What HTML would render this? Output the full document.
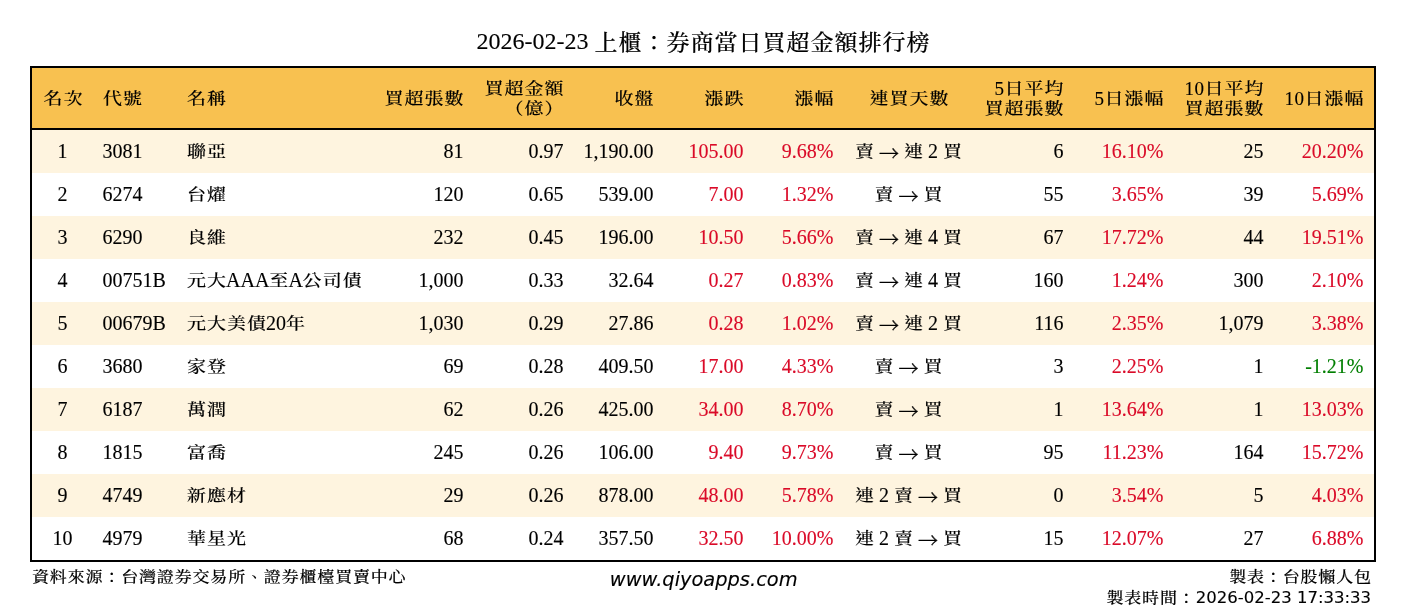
<!DOCTYPE html>
<html lang="zh-Hant"><head><meta charset="utf-8"><title>券商當日買超金額排行榜</title>
<style>
html,body{margin:0;padding:0;background:#fff}
body{width:1406px;height:612px;position:relative;overflow:hidden;font-family:"Liberation Serif","Noto Serif CJK TC","Noto Serif CJK SC",serif;color:#000}
.t{position:absolute;white-space:nowrap;line-height:24px;height:24px;-webkit-text-stroke:.12px currentColor}
.k{font-family:"Liberation Serif","Noto Serif CJK TC","Noto Serif CJK SC",serif;font-weight:500;display:inline-block;transform:scaleY(.86);transform-origin:50% 50%;-webkit-text-stroke:.15px currentColor}
.a{font-family:"Noto Serif CJK TC","Noto Serif CJK SC",serif;font-size:20px;line-height:0;display:inline-block;width:20px;text-align:center;position:relative;top:3px;-webkit-text-stroke:.35px currentColor}
#title{font-size:24px;left:0;width:1406px;text-align:center;top:28px;line-height:26px;height:26px}
#box{position:absolute;left:30px;top:66px;width:1346px;height:496px;box-sizing:border-box;border:2px solid #000;background:#fff}
#hd{position:absolute;left:32px;top:68px;width:1342px;height:60px;background:#F8C150}
#hl{position:absolute;left:32px;top:128px;width:1342px;height:2px;background:#000}
.row{position:absolute;left:32px;width:1342px;height:43px;background:#FEF4DF}
.h{font-size:19px;letter-spacing:.5px}
.h .k{font-size:19px;letter-spacing:1px;margin-right:-1px}
.d{font-size:20px}
.d .k{font-size:19px;letter-spacing:1px;margin-right:-1px;position:relative;top:.2px}
#title .k{font-size:23px;letter-spacing:1px;margin-right:-1px;position:relative;top:1.6px;transform:scaleY(.92)}
.red{color:#DA0A28}
.grn{color:#007F00}
.f{font-size:17.85px}
.f .k{font-size:17.05px;letter-spacing:.8px;margin-right:-.8px;position:relative;top:1.2px}
.dv{font-family:"DejaVu Sans",sans-serif}
</style></head><body>

<div class="t" id="title">2026-02-23 <span class="k">上櫃：券商當日買超金額排行榜</span></div>
<div id="box"></div><div id="hd"></div><div id="hl"></div>
<div class="row" style="top:130px"></div>
<div class="row" style="top:216px"></div>
<div class="row" style="top:302px"></div>
<div class="row" style="top:388px"></div>
<div class="row" style="top:474px"></div>
<div class="t h" style="left:-87px;width:300px;text-align:center;top:87px"><span class="k">名次</span></div>
<div class="t h" style="left:103px;top:87px"><span class="k">代號</span></div>
<div class="t h" style="left:187px;top:87px"><span class="k">名稱</span></div>
<div class="t h" style="right:942.5px;top:87px"><span class="k">買超張數</span></div>
<div class="t h" style="right:842.5px;top:77px"><span class="k">買超金額</span></div>
<div class="t h" style="right:842.5px;top:97px"><span class="k">（億）</span></div>
<div class="t h" style="right:752.5px;top:87px"><span class="k">收盤</span></div>
<div class="t h" style="right:662.5px;top:87px"><span class="k">漲跌</span></div>
<div class="t h" style="right:572.5px;top:87px"><span class="k">漲幅</span></div>
<div class="t h" style="left:759px;width:300px;text-align:center;top:87px"><span class="k">連買天數</span></div>
<div class="t h" style="right:342.5px;top:77px">5<span class="k">日平均</span></div>
<div class="t h" style="right:342.5px;top:97px"><span class="k">買超張數</span></div>
<div class="t h" style="right:242.5px;top:87px">5<span class="k">日漲幅</span></div>
<div class="t h" style="right:142.5px;top:77px">10<span class="k">日平均</span></div>
<div class="t h" style="right:142.5px;top:97px"><span class="k">買超張數</span></div>
<div class="t h" style="right:42.5px;top:87px">10<span class="k">日漲幅</span></div>
<div class="t d" style="left:-87.5px;width:300px;text-align:center;top:138.5px">1</div>
<div class="t d" style="left:102.5px;top:138.5px">3081</div>
<div class="t d" style="left:187px;top:138.5px"><span class="k">聯亞</span></div>
<div class="t d" style="right:942.5px;top:138.5px">81</div>
<div class="t d" style="right:842.5px;top:138.5px">0.97</div>
<div class="t d" style="right:752.5px;top:138.5px">1,190.00</div>
<div class="t d red" style="right:662.5px;top:138.5px">105.00</div>
<div class="t d red" style="right:572.5px;top:138.5px">9.68%</div>
<div class="t d" style="left:758.5px;width:300px;text-align:center;top:138.5px"><span class="k">賣</span> <span class="a">→</span> <span class="k">連</span> 2 <span class="k">買</span></div>
<div class="t d" style="right:342.5px;top:138.5px">6</div>
<div class="t d red" style="right:242.5px;top:138.5px">16.10%</div>
<div class="t d" style="right:142.5px;top:138.5px">25</div>
<div class="t d red" style="right:42.5px;top:138.5px">20.20%</div>
<div class="t d" style="left:-87.5px;width:300px;text-align:center;top:181.5px">2</div>
<div class="t d" style="left:102.5px;top:181.5px">6274</div>
<div class="t d" style="left:187px;top:181.5px"><span class="k">台燿</span></div>
<div class="t d" style="right:942.5px;top:181.5px">120</div>
<div class="t d" style="right:842.5px;top:181.5px">0.65</div>
<div class="t d" style="right:752.5px;top:181.5px">539.00</div>
<div class="t d red" style="right:662.5px;top:181.5px">7.00</div>
<div class="t d red" style="right:572.5px;top:181.5px">1.32%</div>
<div class="t d" style="left:758.5px;width:300px;text-align:center;top:181.5px"><span class="k">賣</span> <span class="a">→</span> <span class="k">買</span></div>
<div class="t d" style="right:342.5px;top:181.5px">55</div>
<div class="t d red" style="right:242.5px;top:181.5px">3.65%</div>
<div class="t d" style="right:142.5px;top:181.5px">39</div>
<div class="t d red" style="right:42.5px;top:181.5px">5.69%</div>
<div class="t d" style="left:-87.5px;width:300px;text-align:center;top:224.5px">3</div>
<div class="t d" style="left:102.5px;top:224.5px">6290</div>
<div class="t d" style="left:187px;top:224.5px"><span class="k">良維</span></div>
<div class="t d" style="right:942.5px;top:224.5px">232</div>
<div class="t d" style="right:842.5px;top:224.5px">0.45</div>
<div class="t d" style="right:752.5px;top:224.5px">196.00</div>
<div class="t d red" style="right:662.5px;top:224.5px">10.50</div>
<div class="t d red" style="right:572.5px;top:224.5px">5.66%</div>
<div class="t d" style="left:758.5px;width:300px;text-align:center;top:224.5px"><span class="k">賣</span> <span class="a">→</span> <span class="k">連</span> 4 <span class="k">買</span></div>
<div class="t d" style="right:342.5px;top:224.5px">67</div>
<div class="t d red" style="right:242.5px;top:224.5px">17.72%</div>
<div class="t d" style="right:142.5px;top:224.5px">44</div>
<div class="t d red" style="right:42.5px;top:224.5px">19.51%</div>
<div class="t d" style="left:-87.5px;width:300px;text-align:center;top:267.5px">4</div>
<div class="t d" style="left:102.5px;top:267.5px">00751B</div>
<div class="t d" style="left:187px;top:267.5px"><span class="k">元大</span>AAA<span class="k">至</span>A<span class="k">公司債</span></div>
<div class="t d" style="right:942.5px;top:267.5px">1,000</div>
<div class="t d" style="right:842.5px;top:267.5px">0.33</div>
<div class="t d" style="right:752.5px;top:267.5px">32.64</div>
<div class="t d red" style="right:662.5px;top:267.5px">0.27</div>
<div class="t d red" style="right:572.5px;top:267.5px">0.83%</div>
<div class="t d" style="left:758.5px;width:300px;text-align:center;top:267.5px"><span class="k">賣</span> <span class="a">→</span> <span class="k">連</span> 4 <span class="k">買</span></div>
<div class="t d" style="right:342.5px;top:267.5px">160</div>
<div class="t d red" style="right:242.5px;top:267.5px">1.24%</div>
<div class="t d" style="right:142.5px;top:267.5px">300</div>
<div class="t d red" style="right:42.5px;top:267.5px">2.10%</div>
<div class="t d" style="left:-87.5px;width:300px;text-align:center;top:310.5px">5</div>
<div class="t d" style="left:102.5px;top:310.5px">00679B</div>
<div class="t d" style="left:187px;top:310.5px"><span class="k">元大美債</span>20<span class="k">年</span></div>
<div class="t d" style="right:942.5px;top:310.5px">1,030</div>
<div class="t d" style="right:842.5px;top:310.5px">0.29</div>
<div class="t d" style="right:752.5px;top:310.5px">27.86</div>
<div class="t d red" style="right:662.5px;top:310.5px">0.28</div>
<div class="t d red" style="right:572.5px;top:310.5px">1.02%</div>
<div class="t d" style="left:758.5px;width:300px;text-align:center;top:310.5px"><span class="k">賣</span> <span class="a">→</span> <span class="k">連</span> 2 <span class="k">買</span></div>
<div class="t d" style="right:342.5px;top:310.5px">116</div>
<div class="t d red" style="right:242.5px;top:310.5px">2.35%</div>
<div class="t d" style="right:142.5px;top:310.5px">1,079</div>
<div class="t d red" style="right:42.5px;top:310.5px">3.38%</div>
<div class="t d" style="left:-87.5px;width:300px;text-align:center;top:353.5px">6</div>
<div class="t d" style="left:102.5px;top:353.5px">3680</div>
<div class="t d" style="left:187px;top:353.5px"><span class="k">家登</span></div>
<div class="t d" style="right:942.5px;top:353.5px">69</div>
<div class="t d" style="right:842.5px;top:353.5px">0.28</div>
<div class="t d" style="right:752.5px;top:353.5px">409.50</div>
<div class="t d red" style="right:662.5px;top:353.5px">17.00</div>
<div class="t d red" style="right:572.5px;top:353.5px">4.33%</div>
<div class="t d" style="left:758.5px;width:300px;text-align:center;top:353.5px"><span class="k">賣</span> <span class="a">→</span> <span class="k">買</span></div>
<div class="t d" style="right:342.5px;top:353.5px">3</div>
<div class="t d red" style="right:242.5px;top:353.5px">2.25%</div>
<div class="t d" style="right:142.5px;top:353.5px">1</div>
<div class="t d grn" style="right:42.5px;top:353.5px">-1.21%</div>
<div class="t d" style="left:-87.5px;width:300px;text-align:center;top:396.5px">7</div>
<div class="t d" style="left:102.5px;top:396.5px">6187</div>
<div class="t d" style="left:187px;top:396.5px"><span class="k">萬潤</span></div>
<div class="t d" style="right:942.5px;top:396.5px">62</div>
<div class="t d" style="right:842.5px;top:396.5px">0.26</div>
<div class="t d" style="right:752.5px;top:396.5px">425.00</div>
<div class="t d red" style="right:662.5px;top:396.5px">34.00</div>
<div class="t d red" style="right:572.5px;top:396.5px">8.70%</div>
<div class="t d" style="left:758.5px;width:300px;text-align:center;top:396.5px"><span class="k">賣</span> <span class="a">→</span> <span class="k">買</span></div>
<div class="t d" style="right:342.5px;top:396.5px">1</div>
<div class="t d red" style="right:242.5px;top:396.5px">13.64%</div>
<div class="t d" style="right:142.5px;top:396.5px">1</div>
<div class="t d red" style="right:42.5px;top:396.5px">13.03%</div>
<div class="t d" style="left:-87.5px;width:300px;text-align:center;top:439.5px">8</div>
<div class="t d" style="left:102.5px;top:439.5px">1815</div>
<div class="t d" style="left:187px;top:439.5px"><span class="k">富喬</span></div>
<div class="t d" style="right:942.5px;top:439.5px">245</div>
<div class="t d" style="right:842.5px;top:439.5px">0.26</div>
<div class="t d" style="right:752.5px;top:439.5px">106.00</div>
<div class="t d red" style="right:662.5px;top:439.5px">9.40</div>
<div class="t d red" style="right:572.5px;top:439.5px">9.73%</div>
<div class="t d" style="left:758.5px;width:300px;text-align:center;top:439.5px"><span class="k">賣</span> <span class="a">→</span> <span class="k">買</span></div>
<div class="t d" style="right:342.5px;top:439.5px">95</div>
<div class="t d red" style="right:242.5px;top:439.5px">11.23%</div>
<div class="t d" style="right:142.5px;top:439.5px">164</div>
<div class="t d red" style="right:42.5px;top:439.5px">15.72%</div>
<div class="t d" style="left:-87.5px;width:300px;text-align:center;top:482.5px">9</div>
<div class="t d" style="left:102.5px;top:482.5px">4749</div>
<div class="t d" style="left:187px;top:482.5px"><span class="k">新應材</span></div>
<div class="t d" style="right:942.5px;top:482.5px">29</div>
<div class="t d" style="right:842.5px;top:482.5px">0.26</div>
<div class="t d" style="right:752.5px;top:482.5px">878.00</div>
<div class="t d red" style="right:662.5px;top:482.5px">48.00</div>
<div class="t d red" style="right:572.5px;top:482.5px">5.78%</div>
<div class="t d" style="left:758.5px;width:300px;text-align:center;top:482.5px"><span class="k">連</span> 2 <span class="k">賣</span> <span class="a">→</span> <span class="k">買</span></div>
<div class="t d" style="right:342.5px;top:482.5px">0</div>
<div class="t d red" style="right:242.5px;top:482.5px">3.54%</div>
<div class="t d" style="right:142.5px;top:482.5px">5</div>
<div class="t d red" style="right:42.5px;top:482.5px">4.03%</div>
<div class="t d" style="left:-87.5px;width:300px;text-align:center;top:525.5px">10</div>
<div class="t d" style="left:102.5px;top:525.5px">4979</div>
<div class="t d" style="left:187px;top:525.5px"><span class="k">華星光</span></div>
<div class="t d" style="right:942.5px;top:525.5px">68</div>
<div class="t d" style="right:842.5px;top:525.5px">0.24</div>
<div class="t d" style="right:752.5px;top:525.5px">357.50</div>
<div class="t d red" style="right:662.5px;top:525.5px">32.50</div>
<div class="t d red" style="right:572.5px;top:525.5px">10.00%</div>
<div class="t d" style="left:758.5px;width:300px;text-align:center;top:525.5px"><span class="k">連</span> 2 <span class="k">賣</span> <span class="a">→</span> <span class="k">買</span></div>
<div class="t d" style="right:342.5px;top:525.5px">15</div>
<div class="t d red" style="right:242.5px;top:525.5px">12.07%</div>
<div class="t d" style="right:142.5px;top:525.5px">27</div>
<div class="t d red" style="right:42.5px;top:525.5px">6.88%</div>
<div class="t f" style="left:32px;top:564px"><span class="k">資料來源：台灣證券交易所、證券櫃檯買賣中心</span></div>
<div class="t dv" style="left:403.7px;width:600px;text-align:center;top:568px;font-size:19.4px;font-style:italic">www.qiyoapps.com</div>
<div class="t f" style="right:35px;top:564px"><span class="k">製表：台股懶人包</span></div>
<div class="t f" style="right:35px;top:585px"><span class="k">製表時間：</span><span class="dv" style="font-size:16.5px;margin-left:1px">2026-02-23 17:33:33</span></div>
</body></html>
